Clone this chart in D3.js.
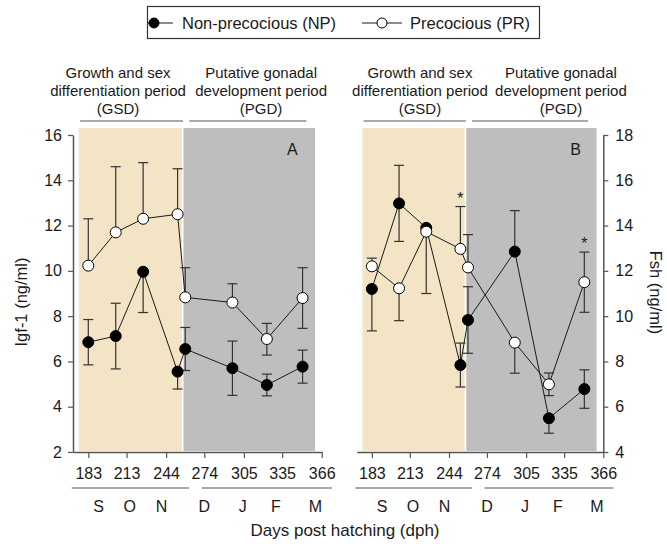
<!DOCTYPE html>
<html>
<head>
<meta charset="utf-8">
<script src="https://cdn.jsdelivr.net/npm/d3@7"></script>
<style>
  body { margin: 0; background: #fff; }
  svg { font-family: "Liberation Sans", Arial, sans-serif; }
</style>
</head>
<body>
<div id="chart"></div>
<script>
var days = [183, 204.5, 226, 253, 259, 296, 323, 351];

var xTicks = [183, 213, 244, 274, 305, 335, 366];
var months = ["S", "O", "N", "D", "J", "F", "M"];
var monthDays = [191, 215.5, 240.5, 274, 304, 330, 361];

// Igf-1 (ng/ml), panel A
var igfNP = [6.85, 7.12, 9.96, 5.55, 6.55, 5.7, 4.96, 5.77];
var igfNPUp = [1.0, 1.45, null, null, 0.95, 1.2, 0.48, 0.73];
var igfNPDown = [1.0, 1.45, 1.8, 0.77, 0.95, 1.2, 0.48, 0.73];
var igfPR = [10.23, 11.7, 12.3, 12.5, 8.83, 8.6, 6.99, 8.8];
var igfPRUp = [2.07, 2.9, 2.48, 2.01, 1.31, 0.83, 0.69, 1.34];
var igfPRDown = [null, null, null, null, null, null, 0.71, 1.34];

// Fsh (ng/ml), panel B
var fshNP = [11.2, 14.98, 13.9, 7.84, 9.83, 12.85, 5.49, 6.78];
var fshNPUp = [null, 1.68, null, 0.97, 1.47, 1.81, null, 0.85];
var fshNPDown = [1.85, 1.68, 2.9, 0.97, 1.47, null, 0.66, 0.85];
var fshPR = [12.2, 11.23, 13.73, 12.97, 12.15, 8.83, 6.99, 11.5];
var fshPRUp = [0.36, null, null, 1.87, 1.45, null, 0.5, 1.33];
var fshPRDown = [null, 1.43, null, null, null, 1.35, 0.5, 1.33];
var fshStars = [253, 351];

var periodNames = [["Growth and sex", "differentiation period", "(GSD)"],
                   ["Putative gonadal", "development period", "(PGD)"]];
var periodShade = [[175.5, 257], [257, 360.7]];
var periodBracket = [[176.5, 257.3], [262.2, 354]];
var monthBracket = [[170, 262], [272, 374]];

var W = 667, H = 553;
var svg = d3.select("#chart").append("svg")
  .attr("width", W).attr("height", H);

var ink = "#1a1a1a";
var axisInk = "#555";

function drawPanel(p) {
  var x = d3.scaleLinear().domain([171, 366]).range(p.xr);
  var y = d3.scaleLinear().domain(p.yd).range([452, 135]);
  var g = svg.append("g");

  // period shading
  g.selectAll("rect.shade").data(periodShade).enter().append("rect")
    .attr("class", "shade")
    .attr("x", function(d, i) { return x(d[0]) + (i ? 0.8 : 0); })
    .attr("width", function(d, i) { return x(d[1]) - x(d[0]) - (i ? 0.8 : 0.8); })
    .attr("y", 128).attr("height", 451 - 128)
    .attr("fill", function(d, i) { return i ? "#bebebe" : "#f2e4c4"; });

  // period brackets and labels
  g.selectAll("line.pb").data(periodBracket).enter().append("line")
    .attr("x1", function(d) { return x(d[0]); })
    .attr("x2", function(d) { return x(d[1]); })
    .attr("y1", 121).attr("y2", 121)
    .attr("stroke", axisInk).attr("stroke-width", 1.2);

  periodNames.forEach(function(lines, i) {
    var t = g.append("text")
      .attr("text-anchor", "middle")
      .attr("font-size", 15).attr("fill", ink);
    lines.forEach(function(s, k) {
      t.append("tspan").attr("x", x(p.labelDays[i])).attr("y", 78 + k * 18).text(s);
    });
  });

  // axes
  var xa = g.append("g").attr("transform", "translate(0,452)")
    .call(d3.axisBottom(x).tickValues(xTicks).tickSize(6).tickSizeOuter(0).tickPadding(10));
  var ya;
  if (p.right) {
    ya = g.append("g").attr("transform", "translate(" + p.xr[1] + ",0)")
      .call(d3.axisRight(y).ticks(7).tickSize(5).tickSizeOuter(0).tickPadding(7));
  } else {
    ya = g.append("g").attr("transform", "translate(" + p.xr[0] + ",0)")
      .call(d3.axisLeft(y).ticks(7).tickSize(5).tickSizeOuter(0).tickPadding(6));
  }
  [xa, ya].forEach(function(a) {
    a.select(".domain").attr("stroke", axisInk).attr("stroke-width", 1.5);
    a.selectAll(".tick line").attr("stroke", axisInk).attr("stroke-width", 1.2);
    a.selectAll(".tick text").attr("font-size", 16).attr("fill", ink)
      .attr("font-family", "Liberation Sans, Arial, sans-serif");
  });

  // month rows
  g.selectAll("line.mb").data(monthBracket).enter().append("line")
    .attr("x1", function(d) { return x(d[0]); })
    .attr("x2", function(d) { return x(d[1]); })
    .attr("y1", 488).attr("y2", 488)
    .attr("stroke", axisInk).attr("stroke-width", 1.2);
  g.selectAll("text.month").data(months).enter().append("text")
    .attr("x", function(d, i) { return x(monthDays[i]); })
    .attr("y", 512)
    .attr("text-anchor", "middle").attr("font-size", 16).attr("fill", ink)
    .text(function(d) { return d; });

  // panel letter
  g.append("text").attr("x", p.letterX).attr("y", 155)
    .attr("text-anchor", "middle").attr("font-size", 16).attr("fill", ink)
    .text(p.letter);

  var series = [
    { v: p.np, up: p.npUp, down: p.npDown, fill: "#000" },
    { v: p.pr, up: p.prUp, down: p.prDown, fill: "#fff" }
  ];

  // error bars
  series.forEach(function(s) {
    var bars = [];
    s.v.forEach(function(v, i) {
      if (s.up[i] != null) bars.push([days[i], v, v + s.up[i]]);
      if (s.down[i] != null) bars.push([days[i], v, v - s.down[i]]);
    });
    var eb = g.append("g").attr("stroke", "#333").attr("stroke-width", 1.2);
    eb.selectAll("line.v").data(bars).enter().append("line")
      .attr("x1", function(d) { return x(d[0]); }).attr("x2", function(d) { return x(d[0]); })
      .attr("y1", function(d) { return y(d[1]); }).attr("y2", function(d) { return y(d[2]); });
    eb.selectAll("line.c").data(bars).enter().append("line")
      .attr("x1", function(d) { return x(d[0]) - 5; }).attr("x2", function(d) { return x(d[0]) + 5; })
      .attr("y1", function(d) { return y(d[2]); }).attr("y2", function(d) { return y(d[2]); });
  });

  // lines
  var line = d3.line().x(function(d, i) { return x(days[i]); }).y(function(d) { return y(d); });
  series.forEach(function(s) {
    g.append("path").datum(s.v).attr("d", line)
      .attr("fill", "none").attr("stroke", ink).attr("stroke-width", 1);
  });

  // markers
  series.forEach(function(s) {
    g.selectAll(null).data(s.v).enter().append("circle")
      .attr("cx", function(d, i) { return x(days[i]); })
      .attr("cy", function(d) { return y(d); })
      .attr("r", 5.5)
      .attr("fill", s.fill).attr("stroke", "#000").attr("stroke-width", 1);
  });

  // significance marks
  (p.stars || []).forEach(function(dd) {
    var i = days.indexOf(dd);
    var top = Math.max(p.pr[i] + (p.prUp[i] || 0), p.np[i] + (p.npUp[i] || 0));
    g.append("text").attr("x", x(dd)).attr("y", y(top) - 3)
      .attr("text-anchor", "middle").attr("font-size", 16).attr("fill", ink).text("*");
  });
}

drawPanel({
  xr: [73, 321.7], yd: [2, 16], right: false,
  np: igfNP, npUp: igfNPUp, npDown: igfNPDown,
  pr: igfPR, prUp: igfPRUp, prDown: igfPRDown,
  labelDays: [206.3, 318.5], letter: "A", letterX: 292.3
});
drawPanel({
  xr: [356.7, 603.3], yd: [4, 18], right: true,
  np: fshNP, npUp: fshNPUp, npDown: fshNPDown,
  pr: fshPR, prUp: fshPRUp, prDown: fshPRDown,
  labelDays: [221, 332.5], letter: "B", letterX: 575.7, stars: fshStars
});

// axis titles
svg.append("text").attr("transform", "translate(27,302) rotate(-90)")
  .attr("text-anchor", "middle").attr("font-size", 16.5).attr("fill", ink)
  .text("Igf-1 (ng/ml)");
svg.append("text").attr("transform", "translate(650,292.5) rotate(90)")
  .attr("text-anchor", "middle").attr("font-size", 16.5).attr("fill", ink)
  .text("Fsh (ng/ml)");
svg.append("text").attr("x", 345).attr("y", 536)
  .attr("text-anchor", "middle").attr("font-size", 17).attr("fill", ink)
  .text("Days post hatching (dph)");

// legend
var lg = svg.append("g");
lg.append("rect").attr("x", 147.5).attr("y", 6.5).attr("width", 392).attr("height", 32)
  .attr("fill", "#fff").attr("stroke", "#333").attr("stroke-width", 1.2);
var legendItems = [
  { label: "Non-precocious (NP)", fill: "#000", x0: 148, x1: 173, cx: 154, tx: 182 },
  { label: "Precocious (PR)", fill: "#fff", x0: 362, x1: 402, cx: 382, tx: 410 }
];
legendItems.forEach(function(d) {
  lg.append("line").attr("x1", d.x0).attr("x2", d.x1).attr("y1", 23).attr("y2", 23)
    .attr("stroke", ink).attr("stroke-width", 1);
  lg.append("circle").attr("cx", d.cx).attr("cy", 23).attr("r", 5)
    .attr("fill", d.fill).attr("stroke", "#000");
  lg.append("text").attr("x", d.tx).attr("y", 29).attr("font-size", 16.5).attr("fill", ink)
    .text(d.label);
});
</script>
</body>
</html>
